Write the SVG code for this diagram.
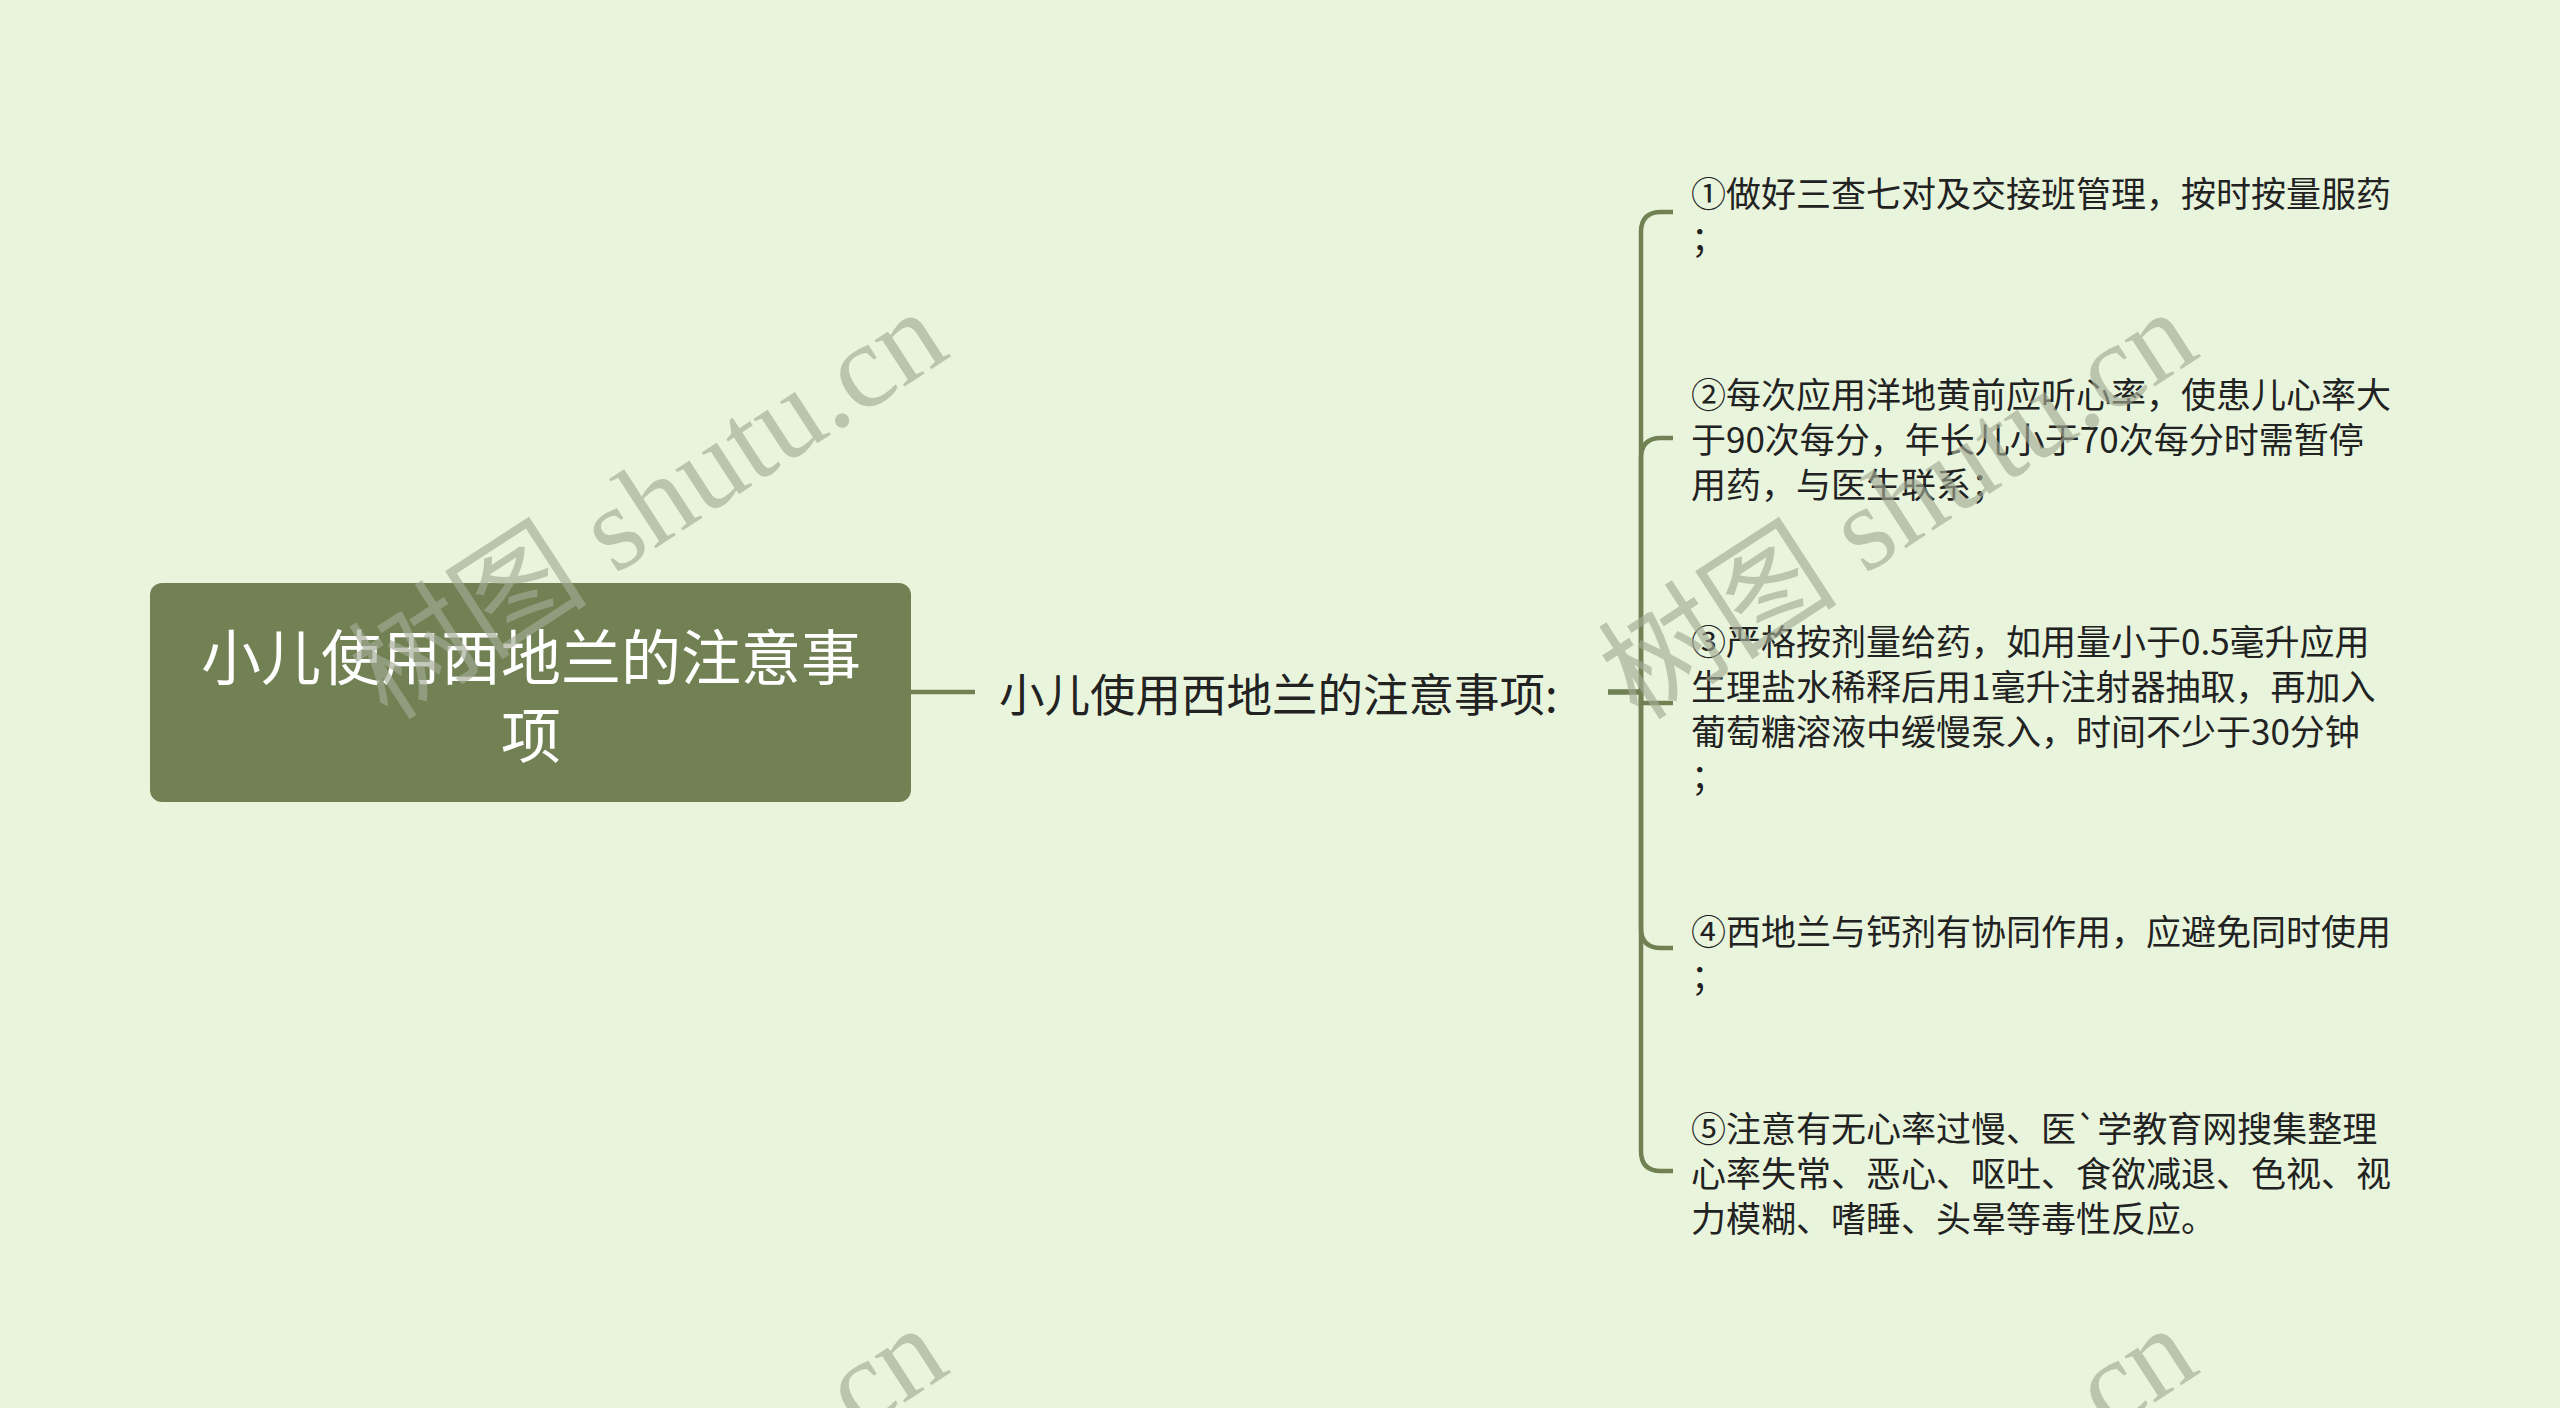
<svg xmlns="http://www.w3.org/2000/svg" width="2560" height="1408" viewBox="0 0 2560 1408">
<style>
.bg{fill:#e8f5dc}
.link{fill:none;stroke:#718153;stroke-width:4.5;stroke-linecap:butt}
.root{fill:#718153}
.rt{font-family:"Noto Sans CJK SC","Noto Sans",sans-serif;font-size:60px;fill:#ffffff}
.st{font-family:"Noto Sans CJK SC","Noto Sans",sans-serif;font-size:45.5px;fill:#222222}
.lt{font-family:"Noto Sans CJK SC","Noto Sans",sans-serif;font-size:35px;fill:#222222}
.wm{font-family:"Liberation Serif","Noto Sans CJK SC",serif;font-size:120px;fill:#a3ab95;fill-opacity:0.65}
</style>
<rect class="bg" x="0" y="0" width="2560" height="1408"/>
<g id="connectors">
  <path class="link" d="M911 692 H975"/>
  <path class="link" d="M1608 692 H1641 V232 Q1641 212 1661 212 H1673"/>
  <path class="link" d="M1608 692 H1641 V458 Q1641 438 1661 438 H1673"/>
  <path class="link" d="M1608 692 H1641 V703 H1673"/>
  <path class="link" d="M1608 692 H1641 V928 Q1641 948 1661 948 H1673"/>
  <path class="link" d="M1608 692 H1641 V1151 Q1641 1171 1661 1171 H1673"/>
</g>
<g id="root">
  <rect class="root" x="150" y="583" width="761" height="219" rx="12"/>
  <text class="rt" text-anchor="middle" dominant-baseline="central"><tspan x="531" y="653">小儿使用西地兰的注意事</tspan><tspan x="531" y="731">项</tspan></text>
</g>
<g id="sub">
  <text class="st" x="999" y="692" dominant-baseline="central">小儿使用西地兰的注意事项:</text>
</g>
<g id="leaf1">
  <text class="lt" dominant-baseline="central"><tspan x="1691" y="191">①做好三查七对及交接班管理，按时按量服药</tspan><tspan x="1691" y="236">；</tspan></text>
</g>
<g id="leaf2">
  <text class="lt" dominant-baseline="central"><tspan x="1691" y="392">②每次应用洋地黄前应听心率，使患儿心率大</tspan><tspan x="1691" y="437">于90次每分，年长儿小于70次每分时需暂停</tspan><tspan x="1691" y="482">用药，与医生联系；</tspan></text>
</g>
<g id="leaf3">
  <text class="lt" dominant-baseline="central"><tspan x="1691" y="639">③严格按剂量给药，如用量小于0.5毫升应用</tspan><tspan x="1691" y="684">生理盐水稀释后用1毫升注射器抽取，再加入</tspan><tspan x="1691" y="729">葡萄糖溶液中缓慢泵入，时间不少于30分钟</tspan><tspan x="1691" y="774">；</tspan></text>
</g>
<g id="leaf4">
  <text class="lt" dominant-baseline="central"><tspan x="1691" y="929">④西地兰与钙剂有协同作用，应避免同时使用</tspan><tspan x="1691" y="974">；</tspan></text>
</g>
<g id="leaf5">
  <text class="lt" dominant-baseline="central"><tspan x="1691" y="1126">⑤注意有无心率过慢、医`学教育网搜集整理</tspan><tspan x="1691" y="1171">心率失常、恶心、呕吐、食欲减退、色视、视</tspan><tspan x="1691" y="1216">力模糊、嗜睡、头晕等毒性反应。</tspan></text>
</g>
<g id="watermark">
  <text class="wm" x="388" y="722" transform="rotate(-33 388 722)">树图 shutu.cn</text>
  <text class="wm" x="1638" y="722" transform="rotate(-33 1638 722)">树图 shutu.cn</text>
  <text class="wm" x="388" y="1738" transform="rotate(-33 388 1738)">树图 shutu.cn</text>
  <text class="wm" x="1638" y="1738" transform="rotate(-33 1638 1738)">树图 shutu.cn</text>
</g>
</svg>
